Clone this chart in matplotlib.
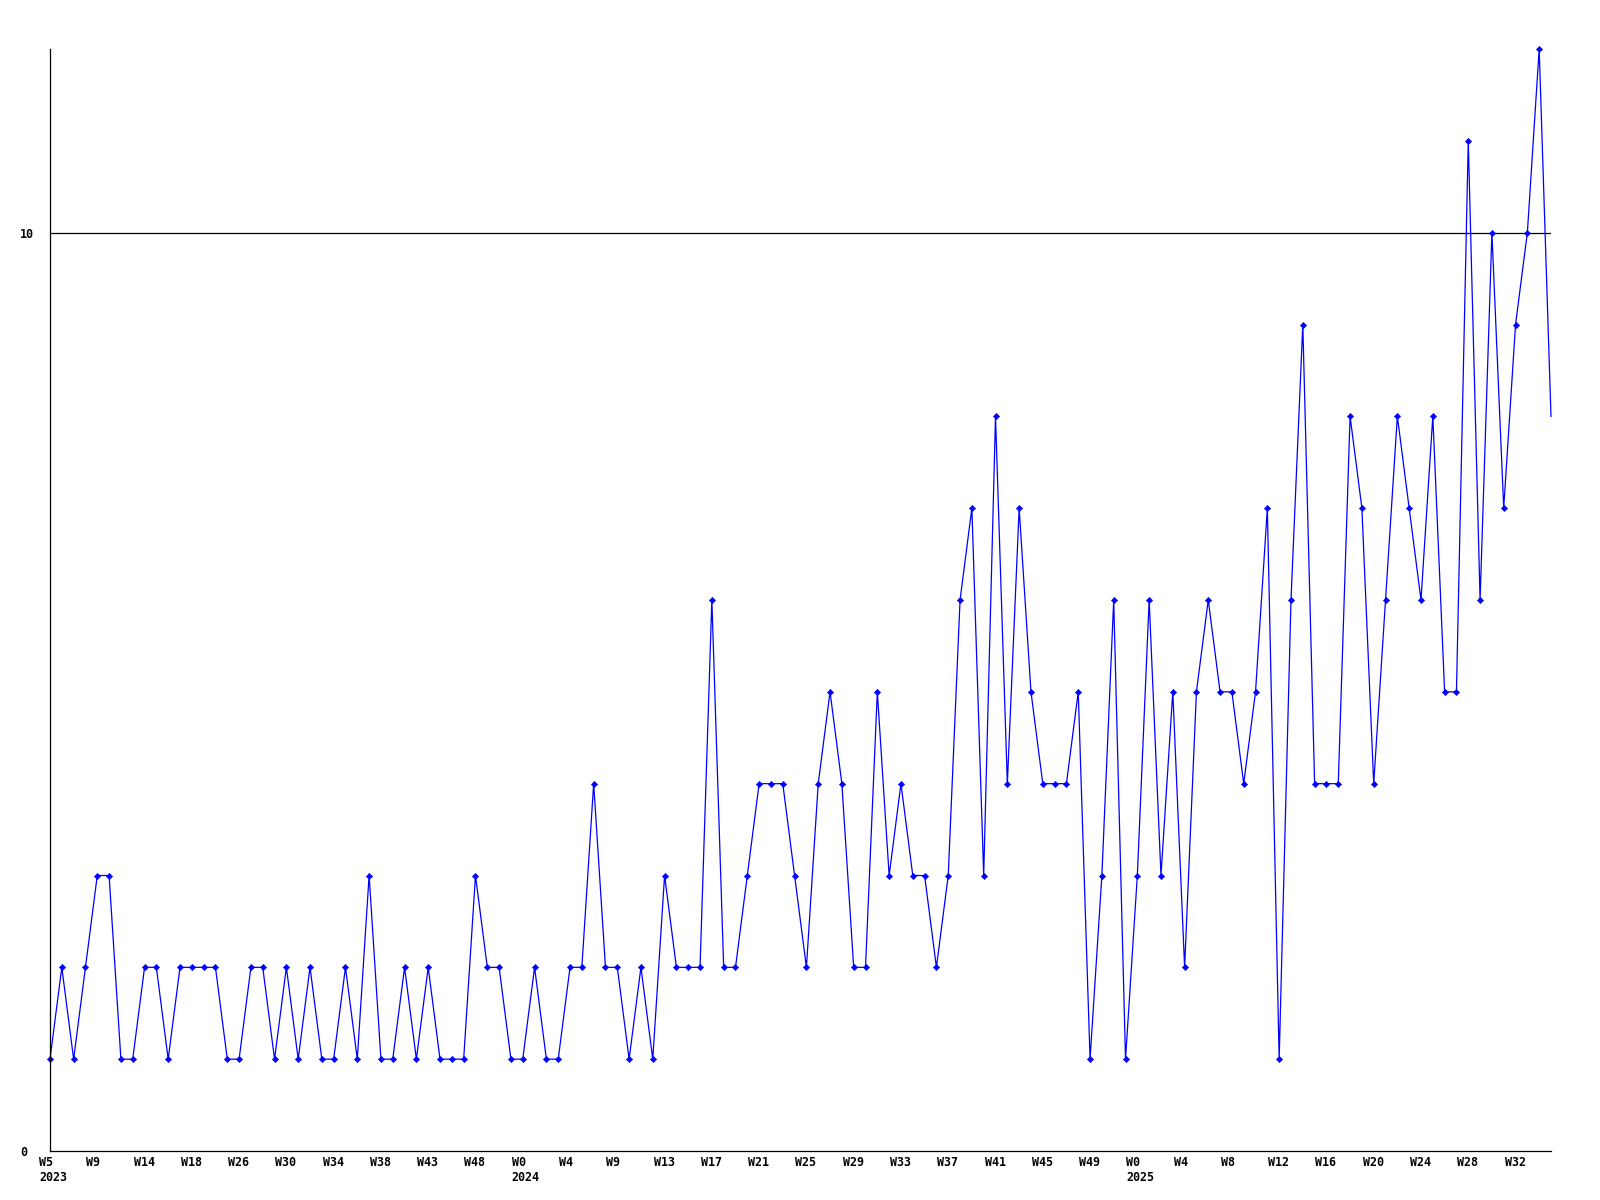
import matplotlib
matplotlib.use("Agg")
import matplotlib.pyplot as plt
import matplotlib.transforms as mtransforms
import numpy as np

# weekly counts, one value per week (last week still running)
counts = [1, 2, 1, 2, 3, 3, 1, 1, 2, 2, 1, 2, 2, 2, 2, 1,
          1, 2, 2, 1, 2, 1, 2, 1, 1, 2, 1, 3, 1, 1, 2, 1,
          2, 1, 1, 1, 3, 2, 2, 1, 1, 2, 1, 1, 2, 2, 4, 2,
          2, 1, 2, 1, 3, 2, 2, 2, 6, 2, 2, 3, 4, 4, 4, 3,
          2, 4, 5, 4, 2, 2, 5, 3, 4, 3, 3, 2, 3, 6, 7, 3,
          8, 4, 7, 5, 4, 4, 4, 5, 1, 3, 6, 1, 3, 6, 3, 5,
          2, 5, 6, 5, 5, 4, 5, 7, 1, 6, 9, 4, 4, 4, 8, 7,
          4, 6, 8, 7, 6, 8, 5, 5, 11, 6, 10, 7, 9, 10, 12, 8]

week_labels = ["W5", "W9", "W14", "W18", "W26", "W30", "W34", "W38", "W43", "W48",
               "W0", "W4", "W9", "W13", "W17", "W21", "W25", "W29", "W33", "W37",
               "W41", "W45", "W49",
               "W0", "W4", "W8", "W12", "W16", "W20", "W24", "W28", "W32"]
year_labels = {0: "2023", 10: "2024", 23: "2025"}
label_step = 4

y_ticks = [0, 10]
y_max = 12

x = np.arange(len(counts))

fig = plt.figure(figsize=(16, 12), dpi=100)
ax = fig.add_axes([50 / 1600, 1 - 1151 / 1200, 1501 / 1600, 1102 / 1200])

ax.axhline(10, color="black", linewidth=0.9, zorder=1)
ax.plot(x, counts, color="#0000ff", linewidth=0.9, marker="D", markersize=3.2,
        markeredgewidth=0.4, markevery=slice(0, len(counts) - 1), zorder=2,
        clip_on=False)

ax.set_xlim(0, len(counts) - 1)
ax.set_ylim(0, y_max)

for side in ["top", "right"]:
    ax.spines[side].set_visible(False)
for side in ["left", "bottom"]:
    ax.spines[side].set_linewidth(0.9)
    ax.spines[side].set_color("black")

font = dict(family="DejaVu Sans Mono", weight="bold", size=8.4)

tick_pos = np.arange(len(week_labels)) * label_step
tick_text = []
for i, w in enumerate(week_labels):
    if i in year_labels:
        tick_text.append(w + "\n" + year_labels[i])
    else:
        tick_text.append(w)
ax.set_xticks(tick_pos)
ax.set_xticklabels(tick_text, fontdict=font, linespacing=1.25)
ax.set_yticks(y_ticks)
ax.set_yticklabels([str(v) for v in y_ticks], fontdict=font)
ax.tick_params(axis="x", length=0, pad=3.5)
ax.tick_params(axis="y", length=0, pad=21.6)

shift = mtransforms.ScaledTranslation(-11 / 100, 0, fig.dpi_scale_trans)
for lab in ax.get_xticklabels():
    lab.set_horizontalalignment("left")
    lab.set_multialignment("left")
    lab.set_transform(lab.get_transform() + shift)
for lab in ax.get_yticklabels():
    lab.set_horizontalalignment("left")

fig.savefig("out.png", dpi=100, facecolor="white")
